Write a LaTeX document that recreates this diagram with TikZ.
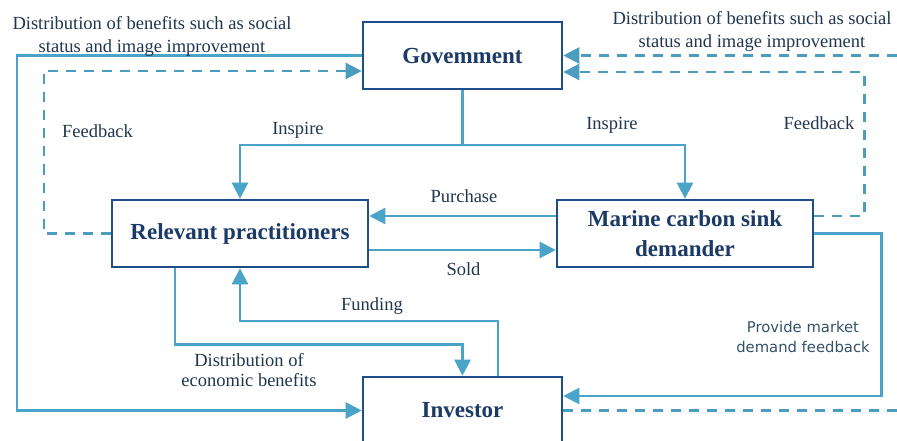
\documentclass[tikz,border=0pt]{standalone}
\usepackage{fontspec}
\setmainfont{Liberation Serif}
\newfontfamily\labsans{DejaVu Sans}
\usetikzlibrary{arrows.meta,calc}
\definecolor{boxc}{HTML}{1E4E8A}
\definecolor{linec}{HTML}{4AA3C8}
\definecolor{dlinec}{HTML}{4A9DBE}
\definecolor{txtc}{HTML}{1B3A66}
\definecolor{labc}{HTML}{22364F}
\definecolor{sansc}{HTML}{34516B}
\tikzset{
  boxn/.style={draw=boxc, line width=2.6pt, fill=white, text=txtc,
    font=\fontsize{23}{30}\selectfont\bfseries, align=center, inner sep=0pt},
  wire/.style={draw=linec, line width=2.4pt},
  conn/.style={wire, -{Triangle[length=16pt,width=16pt]}},
  dwire/.style={draw=dlinec, line width=2.4pt, dash pattern=on 10pt off 8pt},
  dconn/.style={dwire, -{Triangle[length=16pt,width=16pt]}},
  lab/.style={text=labc, font=\fontsize{18.5}{23}\selectfont, inner sep=0pt},
  sanslab/.style={text=sansc, font=\labsans\fontsize{14.8}{20}\selectfont, inner sep=0pt, align=center}
}
\begin{document}
\begin{tikzpicture}[x=1pt,y=-1pt]
\useasboundingbox (0,0) rectangle (897,441);
\fill[white] (0,0) rectangle (897,441);

% boxes
\node[boxn, minimum width=199pt, minimum height=67pt] (gov) at (462.5,55.5) {Govemment};
\node[boxn, minimum width=256pt, minimum height=67pt] (rel) at (240,233.5) {Relevant practitioners};
\node[boxn, minimum width=256pt, minimum height=67pt] (mar) at (685,233.5) {Marine carbon sink\\demander};
\node[boxn, minimum width=199pt, minimum height=67pt] (inv) at (462.5,410.5) {Investor};

% free ends
\coordinate (j) at (462.5,145);
\coordinate (rtop) at (897,55.5);
\coordinate (rbot) at (897,410.5);

% connectors
\draw[conn] (gov.west) -- ++(-345,0) |- (inv.west);
\draw[dconn] (rel.west) -- ++(-67,0) |- ([yshift=-15.5pt]gov.west);
\draw[wire] (gov.south) -- (j);
\draw[conn] (j) -| (rel.north);
\draw[conn] (j) -| (mar.north);
\draw[conn] ([yshift=17.5pt]mar.west) -- ([yshift=17.5pt]rel.east);
\draw[conn] ([yshift=-16.5pt]rel.east) -- ([yshift=-16.5pt]mar.west);
\draw[dconn] ([yshift=17.5pt]mar.east) -- ++(50,0) |- ([yshift=-16.5pt]gov.east);
\draw[dconn] (rtop) -- (gov.east);
\draw[conn] (mar.east) -- ++(67,0) |- ([yshift=14.5pt]inv.east);
\draw[dwire] (inv.east) -- (rbot);
\draw[conn] ([xshift=35.5pt]inv.north) -- ++(0,-55) -| (rel.south);
\draw[conn] ([xshift=-65pt]rel.south) -- ++(0,76) -| (inv.north);

% labels
\node[lab, align=center] (l1) at (152,36.2) {Distribution of benefits such as social\\status and image improvement};
\node[lab, align=center] (l2) at (752,31.7) {Distribution of benefits such as social\\status and image improvement};
\node[lab, anchor=base] (fb1) at (97.5,138) {Feedback};
\node[lab, anchor=base] (ins1) at (298,135) {Inspire};
\node[lab, anchor=base] (ins2) at (612,130) {Inspire};
\node[lab, anchor=base] (fb2) at (819,130) {Feedback};
\node[lab, anchor=base] (pur) at (464,202) {Purchase};
\node[lab, anchor=base] (sold) at (463.5,275) {Sold};
\node[lab, anchor=base] (fund) at (372,310) {Funding};
\node[lab, align=center, font=\fontsize{18.5}{20}\selectfont] (eco) at (249,369.7) {Distribution of\\economic benefits};
\node[sanslab] (pmd) at (803,337.4) {Provide market\\demand feedback};
\end{tikzpicture}
\end{document}
